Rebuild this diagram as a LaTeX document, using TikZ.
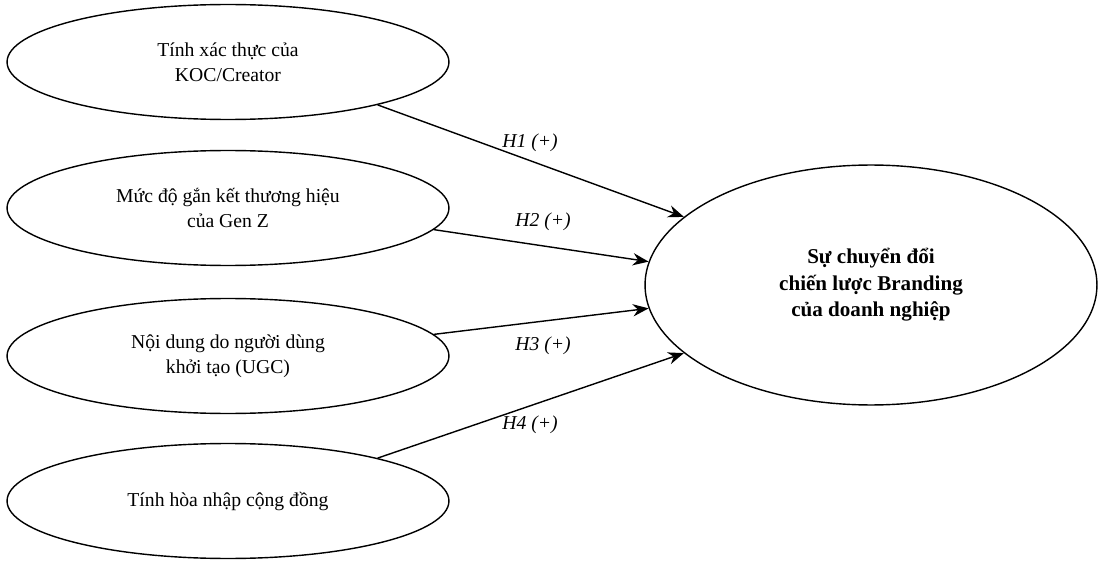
\documentclass[tikz,border=0pt]{standalone}
\usepackage{fontspec}
\setmainfont{Liberation Serif}
\usetikzlibrary{positioning,shapes.geometric,arrows.meta}
\begin{document}
\begin{tikzpicture}[x=0.02cm,y=-0.02cm,
		factor/.style={ellipse,draw=black,thick,minimum width=8.84cm,minimum height=2.3cm,align=center,font=\fontsize{11.2}{14.5}\selectfont},
		hyp/.style={-{Stealth[length=9pt,width=7pt]},thick},
		lab/.style={font=\fontsize{11.2}{14.5}\selectfont\itshape}]
		\useasboundingbox (0,0) rectangle (1103,571);
		\node[factor] (kx) at (228,62) {Tính xác thực của\\KOC/Creator};
		\node[factor] (kg) at (228,208) {Mức độ gắn kết thương hiệu\\của Gen Z};
		\node[factor] (ku) at (228,356) {Nội dung do người dùng\\khởi tạo (UGC)};
		\node[factor] (kc) at (228,501) {Tính hòa nhập cộng đồng};
		
		\node[factor,minimum width=9.04cm,minimum height=4.8cm,font=\fontsize{12}{15}\selectfont\bfseries] (br) at (871,285) {Sự chuyển đổi\\chiến lược Branding\\của doanh nghiệp};
		
		\draw[hyp] (kx.-16) -- (br.160);
		\draw[hyp] (kg.-6) -- (br.174);
		\draw[hyp] (ku.6) -- (br.186);
		\draw[hyp] (kc.16) -- (br.200);
		
		\node[lab] (h1) at (530,143) {H1 (+)};
		\node[lab] (h2) at (543,222) {H2 (+)};
		\node[lab] (h3) at (543,346) {H3 (+)};
		\node[lab] (h4) at (530,425) {H4 (+)};
	\end{tikzpicture}
\end{document}
